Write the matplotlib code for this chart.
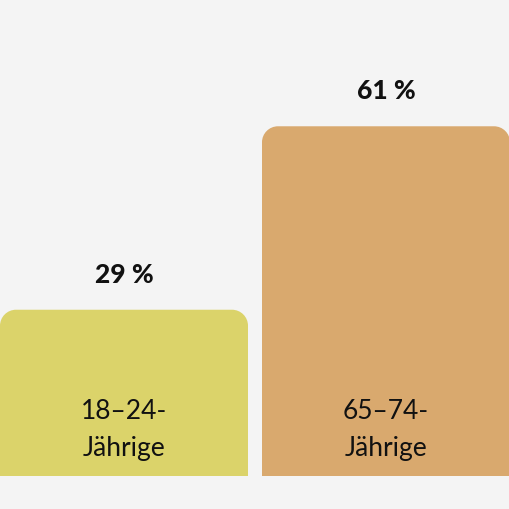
import matplotlib
matplotlib.use("Agg")
import matplotlib.pyplot as plt
from matplotlib.path import Path
from matplotlib.patches import PathPatch
from matplotlib.transforms import offset_copy

categories = ["18–24-\nJährige", "65–74-\nJährige"]
values = [29, 61]
value_labels = ["29 %", "61 %"]
colors = ["#dbd36a", "#d9a96e"]

bg = "#f4f4f4"
fig = plt.figure(figsize=(5.1, 5.1), dpi=100, facecolor=bg)
ax = fig.add_axes([0, 33 / 510, 1, 477 / 510])
ax.set_facecolor(bg)
ax.set_xlim(-0.4733, 1.4733)
ax.set_ylim(0, 83.2)
ax.axis("off")

width = 248 / 262
bars = ax.bar(range(len(values)), values, width=width, color=colors)

# replace rectangles with top-rounded shapes
r_px = 16
for rect, c in zip(bars, colors):
    x0, w, h = rect.get_x(), rect.get_width(), rect.get_height()
    p0 = ax.transData.transform((0, 0))
    p1 = ax.transData.inverted().transform((p0[0] + r_px, p0[1] + r_px))
    rx, ry = p1[0], p1[1]
    k = 0.5523
    verts = [
        (x0, 0), (x0, h - ry),
        (x0, h - ry + k * ry), (x0 + rx - k * rx, h), (x0 + rx, h),
        (x0 + w - rx, h),
        (x0 + w - rx + k * rx, h), (x0 + w, h - ry + k * ry), (x0 + w, h - ry),
        (x0 + w, 0), (x0, 0),
    ]
    codes = [Path.MOVETO, Path.LINETO,
             Path.CURVE4, Path.CURVE4, Path.CURVE4,
             Path.LINETO,
             Path.CURVE4, Path.CURVE4, Path.CURVE4,
             Path.LINETO, Path.CLOSEPOLY]
    rect.set_visible(False)
    ax.add_patch(PathPatch(Path(verts, codes), facecolor=c, edgecolor="none"))

font = "Lato"
for i, (v, lab, cat) in enumerate(zip(values, value_labels, categories)):
    tr = offset_copy(ax.transData, fig=fig, x=0, y=28, units="dots")
    ax.text(i, v, lab, transform=tr, ha="center", va="baseline",
            fontsize=19, fontweight="black", family=font, color="#111111")
    tr2 = offset_copy(ax.transData, fig=fig, x=0, y=16, units="dots")
    ax.text(i, 0, cat, transform=tr2, ha="center", va="bottom",
            fontsize=19, family=font, color="#111111", linespacing=1.6)

fig.savefig("out.png", dpi=100, facecolor=bg)
